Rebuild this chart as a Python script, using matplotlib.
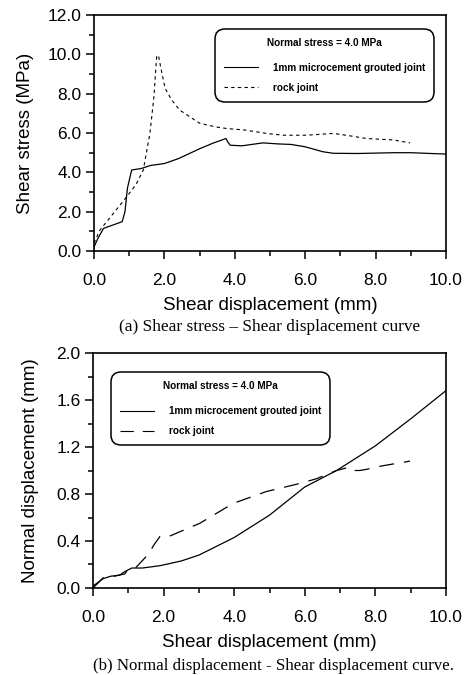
import matplotlib
matplotlib.use("Agg")
import matplotlib.pyplot as plt
from matplotlib.ticker import MultipleLocator, FormatStrFormatter
from matplotlib.lines import Line2D

plt.rcParams['font.family'] = ['Liberation Sans', 'DejaVu Sans']

# (a) shear stress vs shear displacement
grout_x_a = [0.0, 0.1, 0.27, 0.5, 0.8, 0.88, 0.95, 1.07, 1.35, 1.6, 2.0, 2.4, 3.0, 3.4, 3.75, 3.8, 3.87, 4.2, 4.8, 5.2, 5.6, 6.0, 6.5, 6.8, 7.5, 8.5, 9.0, 10.0]
grout_y_a = [0.2, 0.6, 1.15, 1.3, 1.49, 2.0, 3.2, 4.12, 4.2, 4.35, 4.45, 4.7, 5.2, 5.5, 5.72, 5.55, 5.38, 5.35, 5.5, 5.45, 5.42, 5.3, 5.05, 4.97, 4.96, 5.0, 5.0, 4.93]
rock_x_a = [0.0, 0.17, 0.5, 0.93, 1.2, 1.4, 1.59, 1.7, 1.78, 1.83, 1.9, 2.02, 2.2, 2.44, 3.01, 3.5, 3.77, 4.3, 4.9, 5.38, 6.04, 6.8, 7.3, 7.75, 8.5, 8.98]
rock_y_a = [0.4, 1.07, 1.8, 2.76, 3.4, 4.12, 6.0, 7.8, 9.88, 9.96, 9.3, 8.27, 7.7, 7.16, 6.49, 6.3, 6.23, 6.15, 5.98, 5.89, 5.89, 5.98, 5.85, 5.72, 5.65, 5.5]

# (b) normal displacement vs shear displacement
grout_x_b = [0.0, 0.06, 0.29, 0.5, 0.76, 0.9, 1.1, 1.4, 1.9, 2.5, 3.0, 4.0, 5.0, 6.0, 6.9, 8.0, 9.0, 10.0]
grout_y_b = [0.02, 0.03, 0.08, 0.1, 0.11, 0.14, 0.17, 0.17, 0.19, 0.23, 0.28, 0.43, 0.62, 0.86, 1.0, 1.21, 1.44, 1.68]
rock_x_b = [0.0, 0.3, 0.6, 0.9, 1.0, 1.2, 1.42, 1.6, 1.71, 1.9, 2.08, 2.55, 3.02, 3.97, 4.9, 5.86, 6.33, 6.9, 7.28, 7.4, 7.55, 7.75, 8.2, 8.98]
rock_y_b = [0.0, 0.09, 0.1, 0.12, 0.16, 0.17, 0.24, 0.3, 0.36, 0.44, 0.43, 0.49, 0.55, 0.72, 0.82, 0.89, 0.93, 1.0, 1.03, 1.0, 1.0, 1.01, 1.04, 1.08]

x_ticks = [0.0, 2.0, 4.0, 6.0, 8.0, 10.0]
y_ticks_a = [0.0, 2.0, 4.0, 6.0, 8.0, 10.0, 12.0]
y_ticks_b = [0.0, 0.4, 0.8, 1.2, 1.6, 2.0]

legend_title = "Normal stress = 4.0 MPa"
grout_label = "1mm microcement grouted joint"
rock_label = "rock joint"

DOTTED = (0, (3, 3))
DASHED = (0, (12, 8))

fig = plt.figure(figsize=(4.66, 6.75), dpi=100)
ax_a = fig.add_axes([0.2017, 0.6281, 0.7554, 0.3496])
ax_b = fig.add_axes([0.1996, 0.1289, 0.7575, 0.3481])


def style_axes(ax, yticks, yminor, ylabel, ylabelpad):
    ax.set_xlim(0, 10)
    ax.set_ylim(yticks[0], yticks[-1])
    ax.set_xticks(x_ticks)
    ax.set_yticks(yticks)
    ax.xaxis.set_minor_locator(MultipleLocator(1.0))
    ax.yaxis.set_minor_locator(MultipleLocator(yminor))
    ax.xaxis.set_major_formatter(FormatStrFormatter('%.1f'))
    ax.yaxis.set_major_formatter(FormatStrFormatter('%.1f'))
    ax.tick_params(which='both', direction='out', width=1.1, colors='black',
                   top=False, right=False)
    ax.tick_params(which='major', length=5.5, labelsize=12.5)
    ax.tick_params(which='minor', length=3.5)
    ax.tick_params(axis='x', which='major', pad=10)
    ax.tick_params(axis='y', which='major', pad=3.5)
    for s in ax.spines.values():
        s.set_linewidth(1.2)
    ax.set_xlabel("Shear displacement (mm)", fontsize=13.5, labelpad=7)
    ax.set_ylabel(ylabel, fontsize=13.5, labelpad=ylabelpad)


def add_legend(ax, rock_style, anchor):
    handles = [Line2D([], [], color='black', lw=0.8, linestyle='-'),
               Line2D([], [], color='black', lw=0.8, linestyle=rock_style)]
    leg = ax.legend(handles, [grout_label, rock_label], title=legend_title,
                    loc='upper left', bbox_to_anchor=anchor,
                    prop={'size': 7.2, 'weight': 'bold'},
                    title_fontproperties={'size': 7.2, 'weight': 'bold'},
                    handlelength=3.4, handletextpad=1.5, labelspacing=1.0,
                    borderpad=0.9, borderaxespad=0, fancybox=True,
                    framealpha=1, edgecolor='black')
    # a little more room between the title and the first entry
    leg._legend_box.sep = 1.5 * 7.2
    frame = leg.get_frame()
    frame.set_linewidth(1.1)
    frame.set_boxstyle('round,pad=0,rounding_size=1.0')
    return leg


# panel (a)
ax_a.plot(grout_x_a, grout_y_a, color='black', lw=0.9, linestyle='-')
ax_a.plot(rock_x_a, rock_y_a, color='black', lw=0.8, linestyle=DOTTED)
style_axes(ax_a, y_ticks_a, 1.0, "Shear stress (MPa)", 9.5)
add_legend(ax_a, DOTTED, (0.344, 0.941))

# panel (b)
ax_b.plot(grout_x_b, grout_y_b, color='black', lw=0.9, linestyle='-')
ax_b.plot(rock_x_b, rock_y_b, color='black', lw=0.9, linestyle=DASHED)
style_axes(ax_b, y_ticks_b, 0.2, "Normal displacement (mm)", 12.5)
add_legend(ax_b, DASHED, (0.051, 0.919))

fig.text(0.579, 0.5156, "(a) Shear stress \u2013 Shear displacement curve",
         family=['Liberation Serif', 'DejaVu Serif'], fontsize=12.4,
         ha='center', va='center')
fig.text(0.586, 0.0133, "(b) Normal displacement - Shear displacement curve.",
         family=['Liberation Serif', 'DejaVu Serif'], fontsize=12.2,
         ha='center', va='center')

fig.savefig("out.png", dpi=100)
